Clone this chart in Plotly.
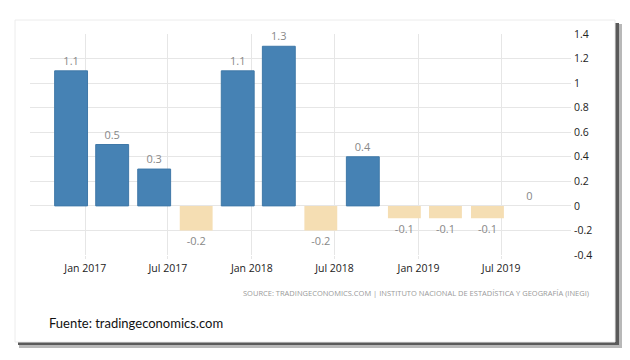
import plotly.graph_objects as go

# Data
periods = ["2016-12-01", "2017-03-01", "2017-06-01", "2017-09-01", "2017-12-01", "2018-03-01",
           "2018-06-01", "2018-09-01", "2018-12-01", "2019-03-01", "2019-06-01", "2019-09-01"]
values = [1.1, 0.5, 0.3, -0.2, 1.1, 1.3, -0.2, 0.4, -0.1, -0.1, -0.1, 0]
ytick_vals = [-0.4, -0.2, 0, 0.2, 0.4, 0.6, 0.8, 1, 1.2, 1.4]
ytick_text = ["-0.4", "-0.2", "0", "0.2", "0.4", "0.6", "0.8", "1", "1.2", "1.4"]
source_text = "SOURCE: TRADINGECONOMICS.COM | INSTITUTO NACIONAL DE ESTADÍSTICA Y GEOGRAFÍA (INEGI)"
footer_text = "Fuente: tradingeconomics.com"

labels = [f"{v:g}" for v in values]
colors = ["#4682B4" if v > 0 else "#F5DEB3" for v in values]
line_colors = ["#3f78a8" if v > 0 else "#F5DEB3" for v in values]
line_widths = [1 if v > 0 else 0 for v in values]

OFF = 8  # page body margin
W, H = 630 - OFF, 360 - OFF
L, R, T, B = 30 - OFF, 571 - OFF, 34 - OFF, 255 - OFF


def px(x):
    return (x - OFF - L) / (R - L)


def py(y):
    return (B - (y - OFF)) / (B - T)


fig = go.Figure(go.Bar(
    x=periods, y=values, text=labels, textposition="outside",
    textfont=dict(color="#888888", size=11, family="Open Sans"),
    marker=dict(color=colors, line=dict(color=line_colors, width=line_widths)),
    cliponaxis=False, constraintext="none", hoverinfo="skip",
))

shapes = [
    dict(type="rect", xref="paper", yref="paper", layer="below",
         x0=px(19), x1=px(622), y0=py(24), y1=py(348),
         fillcolor="#b8b8b8", line=dict(width=0)),
    dict(type="rect", xref="paper", yref="paper", layer="below",
         x0=px(18), x1=px(619), y0=py(23), y1=py(345),
         fillcolor="#5a5a5a", line=dict(width=0)),
    dict(type="rect", xref="paper", yref="paper", layer="below",
         x0=px(15), x1=px(615), y0=py(20), y1=py(342),
         fillcolor="#ffffff", line=dict(color="#ececec", width=1)),
]

annotations = [
    dict(text=source_text, xref="paper", yref="paper", x=px(591), y=py(293),
         xanchor="right", yanchor="middle", showarrow=False,
         font=dict(size=7.5, color="#9a9a9a", family="Open Sans")),
    dict(text=footer_text, xref="paper", yref="paper", x=px(47), y=py(323),
         xanchor="left", yanchor="middle", showarrow=False,
         font=dict(size=13, color="#111111", family="Lato")),
]

fig.update_layout(
    width=W, height=H,
    margin=dict(l=L, r=W - R, t=T, b=H - B, pad=0),
    paper_bgcolor="#ffffff", plot_bgcolor="rgba(0,0,0,0)",
    showlegend=False, bargap=0.2,
    font=dict(family="Open Sans", size=10.5, color="#222222"),
    shapes=shapes, annotations=annotations,
    xaxis=dict(type="date", range=["2016-09-02", "2019-12-01"],
               tick0="2017-01-01", dtick="M6", tickformat="%b %Y",
               showgrid=True, gridcolor="#e6e6e6", gridwidth=1,
               ticks="outside", ticklen=3, tickcolor="#e6e6e6",
               showline=False, zeroline=False,
               tickfont=dict(size=10.5, color="#222222")),
    yaxis=dict(range=[-0.4, 1.4], side="right", tickvals=ytick_vals, ticktext=ytick_text,
               showgrid=True, gridcolor="#e6e6e6", gridwidth=1,
               zeroline=False, showline=False, ticks="", ticklabelstandoff=2,
               tickfont=dict(size=10.5, color="#222222")),
)

fig.write_html("out.html")
